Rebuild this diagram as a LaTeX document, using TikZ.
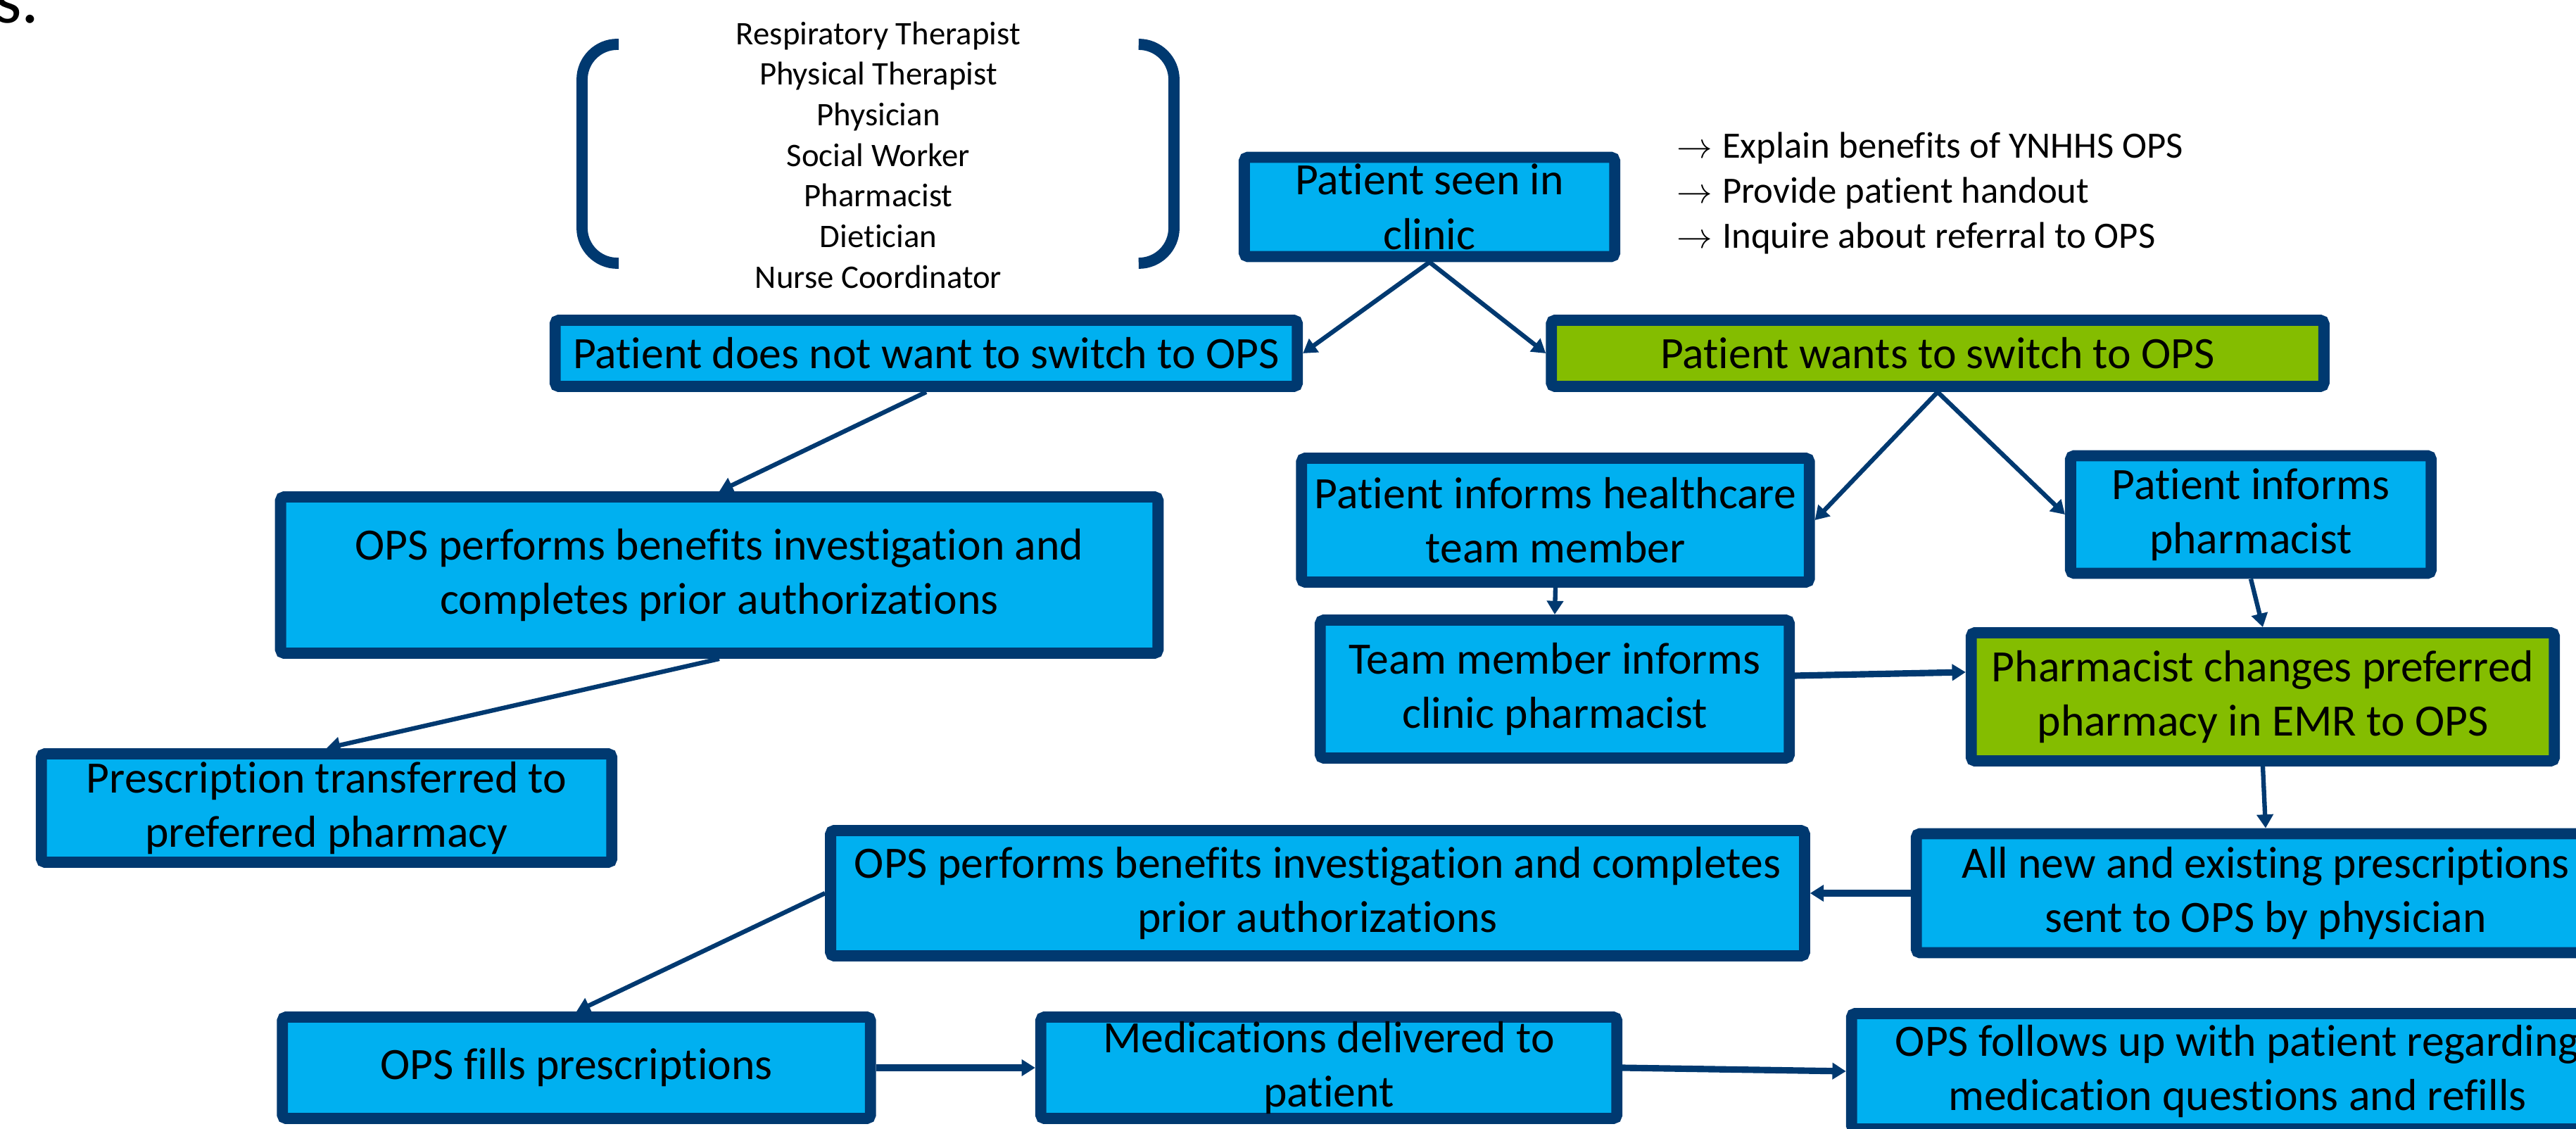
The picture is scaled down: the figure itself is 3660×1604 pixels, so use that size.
\documentclass[tikz,border=0pt]{standalone}
\usepackage{fontspec}
\setmainfont{Carlito}[Ligatures=NoCommon]
\usetikzlibrary{arrows.meta,shadows}
\definecolor{navy}{RGB}{0,57,112}
\definecolor{sky}{RGB}{0,176,240}
\definecolor{lime}{RGB}{132,189,0}

\begin{document}
\begin{tikzpicture}[x=0.01cm, y=-0.01cm,
    box/.style={draw=navy, fill=sky, line width=4.5pt, rounded corners=1.5pt,
        align=center, inner sep=0pt, font=\fontsize{18.1}{22}\selectfont,
        drop shadow={shadow xshift=1.2pt, shadow yshift=-1.5pt, opacity=0.25}},
    gbox/.style={box, fill=lime},
    flow/.style={draw=navy, line width=1.8pt, -{Triangle[length=5.5pt,width=6.5pt]}},
    bigflow/.style={flow, line width=2.6pt}]
                                \path[use as bounding box, clip] (0,0) rectangle (3660,1604);
                                \node[anchor=base east, font=\fontsize{28}{34}\selectfont] (title) at (68,33) {ss.};
                                % team roles
                                \node[align=center, font=\fontsize{13.3}{16.4}\selectfont] (roles) at (1248,220)
                                    {Respiratory Therapist\\Physical Therapist\\Physician\\Social Worker\\Pharmacist\\Dietician\\Nurse Coordinator};
                                \draw[navy, line width=4.5pt, rounded corners=0.5cm] (879,63) -- (827,63) -- (827,374) -- (879,374);
                                \draw[navy, line width=4.5pt, rounded corners=0.5cm] (1619,63) -- (1668,63) -- (1668,374) -- (1619,374);
                                \node[anchor=west, align=left, font=\fontsize{15}{18.2}\selectfont] (steps) at (2370,274)
                                    {$\rightarrow$\hspace{4pt}Explain benefits of YNHHS OPS\\
                                     $\rightarrow$\hspace{4pt}Provide patient handout\\
                                     $\rightarrow$\hspace{4pt}Inquire about referral to OPS};
                                % boxes
                                \node[box, minimum width=5.26cm, minimum height=1.41cm] (clinic) at (2031,294) {Patient seen in\\clinic};
                                \node[box, minimum width=10.54cm, minimum height=0.94cm] (notwant) at (1316,502) {Patient does not want to switch to OPS};
                                \node[gbox, minimum width=10.97cm, minimum height=0.94cm] (wants) at (2753,502) {Patient wants to switch to OPS};
                                \node[box, minimum width=12.46cm, minimum height=2.22cm] (benefitsA) at (1022,817) {OPS performs benefits investigation and\\completes prior authorizations};
                                \node[box, minimum width=8.10cm, minimum height=1.54cm] (transfer) at (464,1148) {Prescription transferred to\\preferred pharmacy};
                                \node[box, minimum width=7.21cm, minimum height=1.76cm] (informteam) at (2210,739) {Patient informs healthcare\\team member};
                                \node[box, minimum width=5.12cm, minimum height=1.67cm] (informpharm) at (3198,731) {Patient informs\\pharmacist};
                                \node[box, minimum width=6.66cm, minimum height=1.96cm] (teampharm) at (2209,979) {Team member informs\\clinic pharmacist};
                                \node[gbox, minimum width=8.28cm, minimum height=1.82cm] (changes) at (3215,990) {Pharmacist changes preferred\\pharmacy in EMR to OPS};
                                \node[box, minimum width=9.92cm, minimum height=1.69cm] (allnew) at (3219,1269) {All new and existing prescriptions\\sent to OPS by physician};
                                \node[box, minimum width=13.83cm, minimum height=1.78cm] (benefitsB) at (1872,1269) {OPS performs benefits investigation and completes\\prior authorizations};
                                \node[box, minimum width=8.35cm, minimum height=1.44cm] (fills) at (819,1517) {OPS fills prescriptions};
                                \node[box, minimum width=8.18cm, minimum height=1.44cm] (delivered) at (1888,1517) {Medications delivered to\\patient};
                                \node[box, minimum width=10.96cm, minimum height=1.64cm] (followup) at (3179,1522) {OPS follows up with patient regarding\\medication questions and refills};
                                % arrows
                                \draw[flow] (clinic.south) -- (notwant.east);
                                \draw[flow] (clinic.south) -- (wants.west);
                                \draw[flow] (notwant.south) -- (benefitsA.north);
                                \draw[flow] (benefitsA.south) -- (transfer.north);
                                \draw[flow] (wants.south) -- (informteam.east);
                                \draw[flow] (wants.south) -- (informpharm.west);
                                \draw[flow] (informteam.south) -- (teampharm.north);
                                \draw[flow] (informpharm.south) -- (changes.north);
                                \draw[bigflow] ([yshift=0.19cm]teampharm.east) -- ([yshift=0.35cm]changes.west);
                                \draw[flow] (changes.south) -- (allnew.north);
                                \draw[bigflow] (allnew.west) -- (benefitsB.east);
                                \draw[flow] (benefitsB.west) -- (fills.north);
                                \draw[bigflow] (fills.east) -- (delivered.west);
                                \draw[bigflow] (delivered.east) -- (followup.west);
                            \end{tikzpicture}
\end{document}
